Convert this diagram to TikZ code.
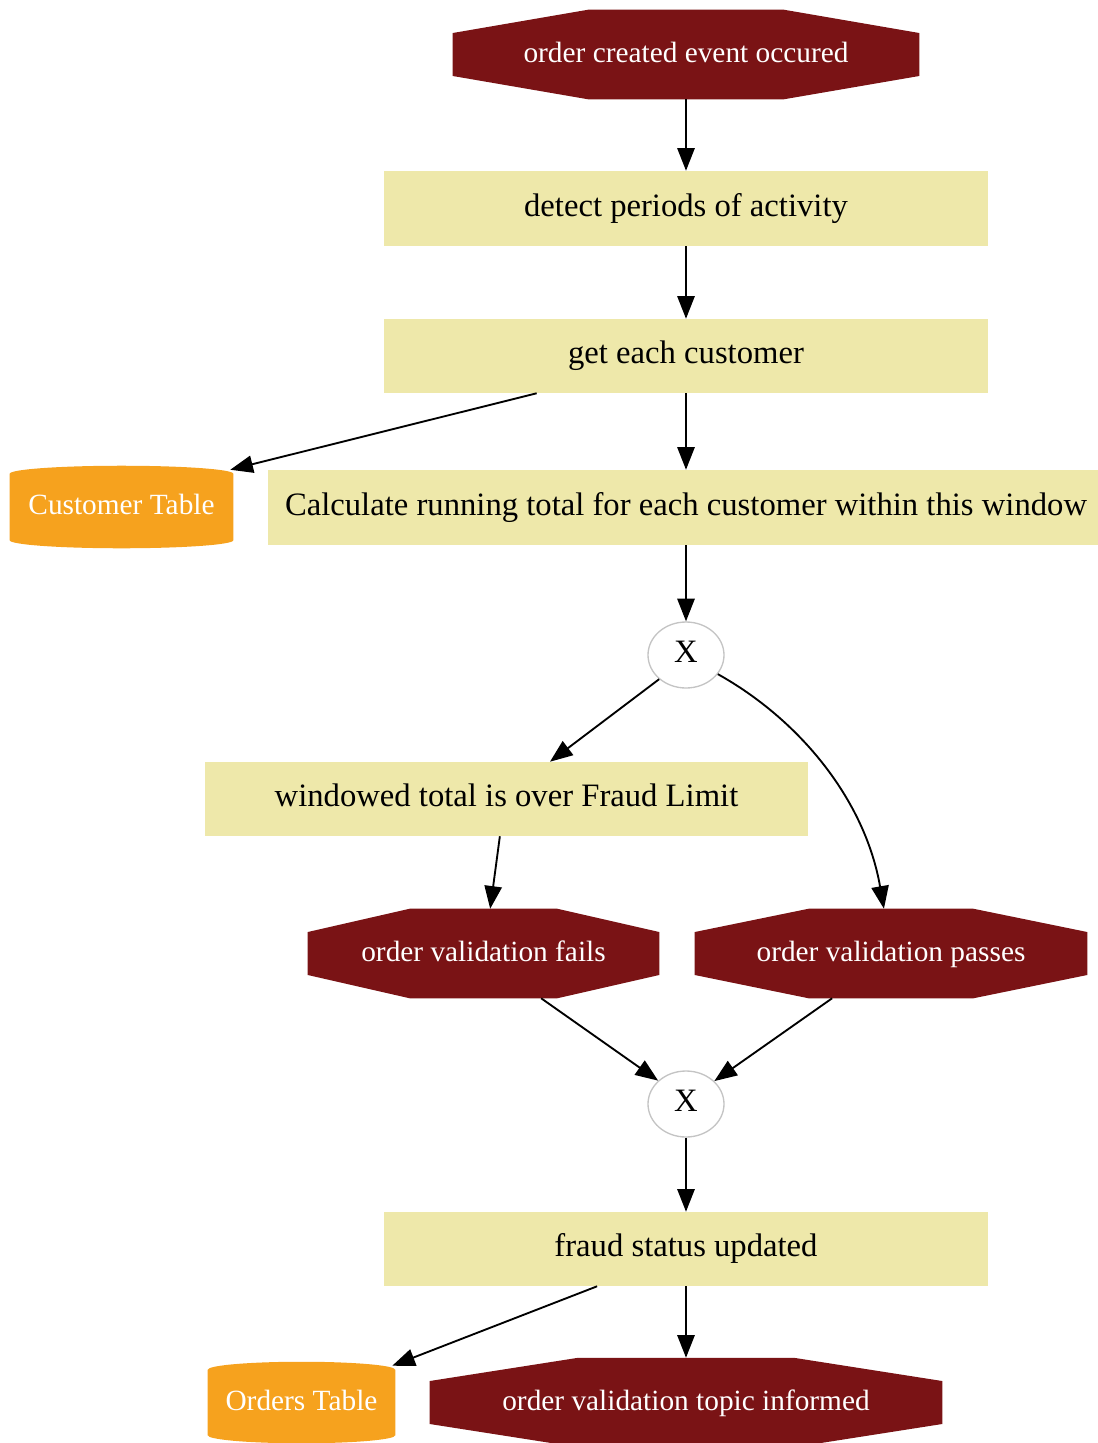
\documentclass[tikz,border=0pt]{standalone}
\usepackage{fontspec}
\setmainfont{Liberation Serif}
\usetikzlibrary{arrows.meta,calc,backgrounds,shapes.geometric}
\definecolor{evred}{HTML}{7A1315}
\definecolor{stepfill}{HTML}{EEE8AA}
\definecolor{tblorange}{HTML}{F6A21E}
\definecolor{xgray}{HTML}{C4C4C4}
\def\pxu{0.75pt}
% octagon fill behind a named node
\newcommand\octfill[1]{%
  \begin{pgfonlayer}{background}
  \fill[evred] ($(#1.north west)!0.29!(#1.north east)$) -- ($(#1.north west)!0.71!(#1.north east)$)
    -- ($(#1.north east)!0.26!(#1.south east)$) -- ($(#1.north east)!0.74!(#1.south east)$)
    -- ($(#1.south west)!0.71!(#1.south east)$) -- ($(#1.south west)!0.29!(#1.south east)$)
    -- ($(#1.north west)!0.74!(#1.south west)$) -- ($(#1.north west)!0.26!(#1.south west)$) -- cycle;
  \end{pgfonlayer}}
% cylinder fill behind a named node
\newcommand\cylfill[1]{%
  \begin{pgfonlayer}{background}
  \fill[tblorange] let \p1=(#1.north west), \p2=(#1.south east),
      \n1={0.5*\x1+0.5*\x2}, \n2={0.5*\x2-0.5*\x1}, \n3={6pt} in
    (\x1,\y1-\n3) .. controls (\x1,\y1-0.45*\n3) and (\n1-0.55*\n2,\y1) .. (\n1,\y1)
    .. controls (\n1+0.55*\n2,\y1) and (\x2,\y1-0.45*\n3) .. (\x2,\y1-\n3)
    -- (\x2,\y2+\n3) .. controls (\x2,\y2+0.45*\n3) and (\n1+0.55*\n2,\y2) .. (\n1,\y2)
    .. controls (\n1-0.55*\n2,\y2) and (\x1,\y2+0.45*\n3) .. (\x1,\y2+\n3) -- cycle;
  \end{pgfonlayer}}
\tikzset{
  lbl/.style={font=\fontsize{24.5}{28}\selectfont, inner sep=0pt,
    text height=1.15em, text depth=0em},
  wlbl/.style={font=\fontsize{22}{26}\selectfont, inner sep=0pt,
    text height=1.15em, text depth=0em},
  stepbox/.style={lbl, rectangle, fill=stepfill, text=black},
  eventbox/.style={wlbl, rectangle, text=white},
  tablebox/.style={wlbl, rectangle, text=white},
  xorbox/.style={lbl, ellipse, draw=xgray, line width=1pt, fill=white,
    minimum width=76*\pxu, minimum height=66*\pxu},
  flow/.style={line width=1.4pt, -{Triangle[length=17pt,width=13pt]}},
}
\begin{document}
\begin{tikzpicture}[x=0.75pt,y=-0.75pt]
\useasboundingbox (0,0) rectangle (1097,1443);

\node[eventbox, minimum width=466*\pxu, minimum height=89*\pxu] (start) at (686,54.5) {order created event occured};
\octfill{start}
\node[stepbox, minimum width=604*\pxu, minimum height=75*\pxu] (detect) at (686,208.5) {detect periods of activity};
\node[stepbox, minimum width=604*\pxu, minimum height=74*\pxu] (get) at (686,356) {get each customer};
\node[tablebox, minimum width=223*\pxu, minimum height=82*\pxu] (ctab) at (121.5,507) {Customer Table};
\cylfill{ctab}
\node[stepbox, minimum width=836*\pxu, minimum height=75*\pxu] (calc) at (686,507.5) {Calculate running total for each customer within this window};
\node[xorbox] (x1) at (686,655) {X};
\node[stepbox, minimum width=603*\pxu, minimum height=74*\pxu] (over) at (506.5,799) {windowed total is over Fraud Limit};
\node[eventbox, minimum width=351*\pxu, minimum height=89*\pxu] (fails) at (483.5,953.5) {order validation fails};
\octfill{fails}
\node[eventbox, minimum width=392*\pxu, minimum height=89*\pxu] (passes) at (891,953.5) {order validation passes};
\octfill{passes}
\node[xorbox] (x2) at (686,1104) {X};
\node[stepbox, minimum width=604*\pxu, minimum height=74*\pxu] (fraud) at (686,1249) {fraud status updated};
\node[tablebox, minimum width=187*\pxu, minimum height=81*\pxu] (otab) at (301.5,1402.5) {Orders Table};
\cylfill{otab}
\node[eventbox, minimum width=512*\pxu, minimum height=89*\pxu] (topic) at (686,1402.5) {order validation topic informed};
\octfill{topic}

\draw[flow] (start.south) -- (detect.north);
\draw[flow] (detect.south) -- (get.north);
\draw[flow] ($(get.south west)!0.253!(get.south east)$) -- ($(ctab.north east)+(-3,4)$);
\draw[flow] (get.south) -- (calc.north);
\draw[flow] (calc.south) -- (x1.north);
\draw[flow] (x1.222) -- ($(over.north west)!0.572!(over.north east)$);
\draw[flow] (x1.329) .. controls (800,720) and (865,800) .. ($(passes.north west)!0.482!(passes.north east)$);
\draw[flow] ($(over.south west)!0.489!(over.south east)$) -- ($(fails.north west)!0.519!(fails.north east)$);
\draw[flow] ($(fails.south west)!0.664!(fails.south east)$) -- (x2.140);
\draw[flow] ($(passes.south west)!0.35!(passes.south east)$) -- (x2.39);
\draw[flow] (x2.south) -- (fraud.north);
\draw[flow] ($(fraud.south west)!0.353!(fraud.south east)$) -- ($(otab.north east)+(-3,4)$);
\draw[flow] (fraud.south) -- (topic.north);
\end{tikzpicture}
\end{document}
